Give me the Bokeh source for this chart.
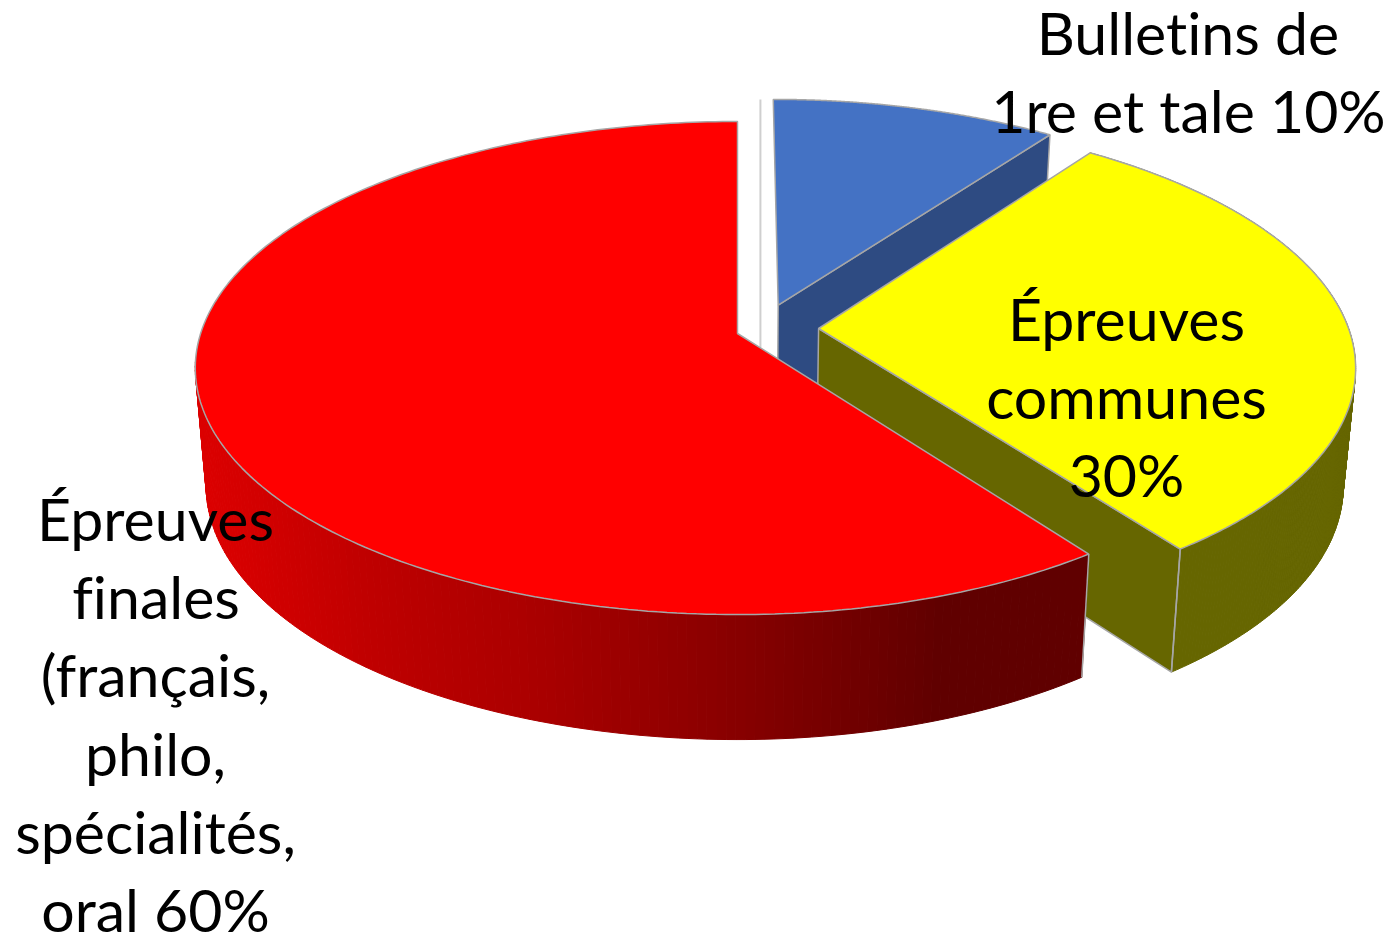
import numpy as np
from bokeh.plotting import figure
from bokeh.models import Range1d
from bokeh.core.properties import value
from bokeh.embed import file_html
from bokeh.resources import INLINE

# ---- data -------------------------------------------------------------
categories = ["Bulletins de 1re et tale", "Épreuves communes", "Épreuves finales"]
shares = [10, 30, 60]
label_lines_blue = ["Bulletins de", "1re et tale 10%"]
label_lines_yellow = ["Épreuves", "communes", "30%"]
label_lines_red = ["Épreuves", "finales", "(français,", "philo,", "spécialités,", "oral 60%"]

# ---- projection of the tilted disc ------------------------------------
CX, CY, AX, BY, K = 737.0, 328.0, 530.0, 241.7, 0.14
SHRINK, SHRINK_Y, DEPTH = 0.98, 1.03, 116.6
EDGE = "#A6A6A6"

def project(X, Y, v0=CY):
    X = np.asarray(X, float); Y = np.asarray(Y, float)
    d = 1 - K * Y
    sx = np.where(X < 0, AX * 1.013, AX)
    return CX + sx * X / d, v0 + BY * Y / d

def lower(x, y, v0=333.0):
    return CX + (x - CX) * SHRINK, v0 + (y - v0) * SHRINK_Y + DEPTH

def arc(t0, t1, n=240):
    t = np.radians(np.linspace(t0, t1, n))
    return np.sin(t), -np.cos(t)

def top_poly(t0, t1, dx, dy, v0):
    X, Y = arc(t0, t1)
    x, y = project(np.r_[dx, X + dx], np.r_[dy, Y + dy], v0)
    return x, y

def wall_quads(ax, ay, bx, by):
    xs, ys = [], []
    for i in range(len(ax) - 1):
        xs.append([ax[i], ax[i + 1], bx[i + 1], bx[i]])
        ys.append([ay[i], ay[i + 1], by[i + 1], by[i]])
    return xs, ys

edges = np.cumsum([0] + shares) * 3.6
b0, b1 = edges[0], edges[1]
y0, y1 = edges[1], edges[2]
r0, r1 = edges[2], edges[3]

p = figure(width=1398, height=939, output_backend="svg", toolbar_location=None,
           x_range=Range1d(0, 1398), y_range=Range1d(939, 0), min_border=0)
p.axis.visible = False
p.grid.visible = False
p.outline_line_color = None
p.background_fill_color = "#FFFFFF"
p.border_fill_color = "#FFFFFF"

# thin light stripe left of the blue slice
sx, sy = project([0.05, 0.05], [-1.115, 0.0], 332.0)
p.line([sx[0], sx[0]], [sy[0], sy[1] + 15], line_color="#CFCFCF", line_width=2)

# ---- blue slice -------------------------------------------------------
BDX, BDY, BV0 = 0.078, -0.115, 332.0
bx, by = top_poly(b0, b1, BDX, BDY, BV0)
lx, ly = lower(bx, by)
p.patch([bx[0], bx[-1], lx[-1], lx[0]], [by[0], by[-1], ly[-1], ly[0]],
        fill_color="#2E4B82", line_color=EDGE, line_width=1.5)
p.patch(bx, by, fill_color="#4472C4", line_color=EDGE, line_width=1.5)

# ---- yellow slice -----------------------------------------------------
YDX, YDY, YV0 = 0.153, 0.0, CY
yx, yy = top_poly(y0, y1, YDX, YDY, YV0)
lx, ly = lower(yx, yy)
wx, wy = wall_quads(yx[1:], yy[1:], lx[1:], ly[1:])
p.patches(wx, wy, fill_color="#666600", line_color="#666600", line_width=1)
p.patch([yx[0], yx[-1], lx[-1], lx[0]], [yy[0], yy[-1], ly[-1], ly[0]],
        fill_color="#666600", line_color=EDGE, line_width=1.5)
p.line([yx[-1], lx[-1]], [yy[-1], ly[-1]], line_color=EDGE, line_width=1.5)
p.patch(yx, yy, fill_color="#FFFF00", line_color=EDGE, line_width=1.5)

# ---- red slice --------------------------------------------------------
rx, ry = top_poly(r0, r1, 0.0, 0.0, 333.0)
lx, ly = lower(rx, ry)
stops_x = [205, 257, 372, 544, 740, 946, 1080]
stops_r = [220, 212, 192, 170, 136, 96, 96]
ax, ay, bx2, by2 = rx[1:], ry[1:], lx[1:], ly[1:]
keep = ay[:-1] >= 360
wx, wy = wall_quads(ax, ay, bx2, by2)
wx = [q for q, k in zip(wx, keep) if k]
wy = [q for q, k in zip(wy, keep) if k]
cols = [f"#{int(np.interp(0.5 * (q[0] + q[3]), stops_x, stops_r)):02X}0000" for q in wx]
p.patches(wx, wy, fill_color=cols, line_color=cols, line_width=1)
p.line([rx[1], lx[1]], [ry[1], ly[1]], line_color=EDGE, line_width=1.5)
p.patch(rx, ry, fill_color="#FF0000", line_color=EDGE, line_width=1.5)

# ---- labels -----------------------------------------------------------
FONT = value("Lato")
SIZE = "59px"
def label(lines, xc, first, step):
    p.text([xc] * len(lines), [first + i * step for i in range(len(lines))], text=lines,
           text_font=FONT, text_font_size=SIZE, text_color="#000000",
           text_align="center", text_baseline="middle")

label(label_lines_blue, 1188, 32, 78)
label(label_lines_yellow, 1126, 318, 78)
label(label_lines_red, 155, 518, 78.2)

html = file_html(p, INLINE)
html = html.replace("</head>", "<style>body{font-variant-ligatures:none;font-feature-settings:'liga' 0}</style></head>", 1)
open("out.html", "w").write(html)
